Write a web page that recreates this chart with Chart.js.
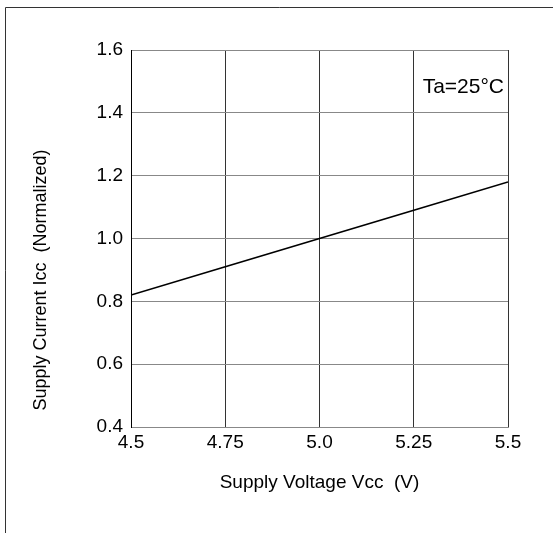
<!DOCTYPE html>
<html>
<head>
    <title>Supply Current vs Supply Voltage</title>
    <script src="https://cdn.jsdelivr.net/npm/chart.js"></script>
    <style>
        html, body { margin: 0; padding: 0; background: #fff; }
        #wrap { position: relative; width: 553px; height: 533px; }
    </style>
</head>
<body>
    <div id="wrap"><canvas id="iccChart" width="553" height="533"></canvas></div>
    <script>
        // values
        const voltage = [4.5, 4.75, 5.0, 5.25, 5.5];
        const iccNorm = [0.82, 0.91, 1.0, 1.09, 1.18];
        const xTickLabels = ['4.5', '4.75', '5.0', '5.25', '5.5'];
        const yTickLabels = ['0.4', '0.6', '0.8', '1.0', '1.2', '1.4', '1.6'];
        const yTitle = 'Supply Current Icc  (Normalized)';
        const noteText = 'Ta=25°C';

        const FONT = 'Arial, "Liberation Sans", sans-serif';

        // outer frame (top and left edges only), y title, condition note
        const decor = {
            id: 'decor',
            beforeDraw(chart) {
                const ctx = chart.ctx;
                ctx.save();
                ctx.strokeStyle = '#333';
                ctx.lineWidth = 1;
                ctx.beginPath();
                ctx.moveTo(5.5, 533);
                ctx.lineTo(5.5, 7.5);
                ctx.lineTo(553, 7.5);
                ctx.stroke();
                ctx.restore();
            },
            afterDraw(chart) {
                const ctx = chart.ctx;
                const a = chart.chartArea;
                ctx.save();
                ctx.fillStyle = '#000';
                ctx.font = '21px ' + FONT;
                ctx.textAlign = 'right';
                ctx.textBaseline = 'middle';
                ctx.fillText(noteText, a.right - 4, a.top + 37);

                ctx.translate(41, a.top + 230);
                ctx.rotate(-Math.PI / 2);
                ctx.font = '18px ' + FONT;
                ctx.textAlign = 'center';
                ctx.fillText(yTitle, 0, 0);
                ctx.restore();
            }
        };

        new Chart(document.getElementById('iccChart').getContext('2d'), {
            type: 'line',
            data: {
                datasets: [{
                    data: voltage.map((v, i) => ({ x: v, y: iccNorm[i] })),
                    borderColor: '#000',
                    borderWidth: 1.7,
                    pointRadius: 0,
                    fill: false,
                    tension: 0
                }]
            },
            options: {
                responsive: false,
                devicePixelRatio: 1,
                animation: false,
                layout: { padding: { left: 0, top: 50, right: 45, bottom: 0 } },
                plugins: { legend: { display: false }, tooltip: { enabled: false } },
                scales: {
                    x: {
                        type: 'linear',
                        min: 4.5,
                        max: 5.5,
                        afterFit: s => { s.height = 106; },
                        afterBuildTicks: s => { s.ticks = voltage.map(v => ({ value: v })); },
                        ticks: {
                            color: '#000',
                            font: { family: FONT, size: 19 },
                            padding: 4,
                            maxRotation: 0,
                            callback: (v, i) => xTickLabels[i]
                        },
                        grid: { color: '#333', lineWidth: 1, drawTicks: false },
                        border: { color: '#888', width: 1 },
                        title: {
                            display: true,
                            text: 'Supply Voltage Vcc  (V)',
                            color: '#000',
                            font: { family: FONT, size: 19 },
                            padding: { top: 0, bottom: 39 }
                        }
                    },
                    y: {
                        min: 0.4,
                        max: 1.6,
                        afterFit: s => { s.width = 131; },
                        ticks: {
                            stepSize: 0.2,
                            color: '#000',
                            font: { family: FONT, size: 19 },
                            padding: 8,
                            callback: (v, i) => yTickLabels[i]
                        },
                        grid: { color: '#888', lineWidth: 1, drawTicks: false },
                        border: { color: '#000', width: 1 },
                        title: { display: false }
                    }
                }
            },
            plugins: [decor]
        });
    </script>
</body>
</html>
